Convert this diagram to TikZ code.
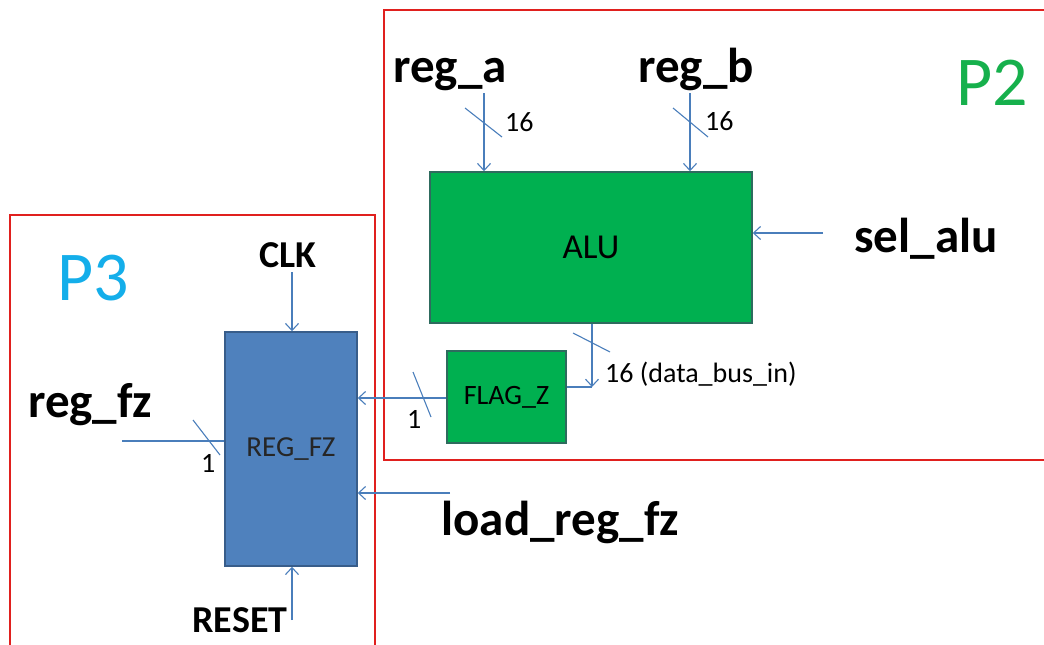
\documentclass[tikz,border=0pt]{standalone}
\usepackage{fontspec}
\setmainfont{Carlito}
\usetikzlibrary{positioning, arrows.meta, calc}
\definecolor{wireblue}{HTML}{4A7EBB}
\definecolor{framered}{HTML}{E0201E}
\definecolor{alugreen}{HTML}{00B050}
\definecolor{aluedge}{HTML}{2E6B5E}
\definecolor{regblue}{HTML}{4F81BD}
\definecolor{regedge}{HTML}{385D8A}
\definecolor{ptwo}{HTML}{16B04C}
\definecolor{pthree}{HTML}{14AEEA}

\begin{document}
\begin{tikzpicture}[
    x=1pt, y=-1pt,
    wire/.style={draw=wireblue, line width=1.1pt},
    arr/.style={wire, -{Straight Barb[length=7pt, width=13pt]}},
    frame/.style={draw=framered, line width=2.4pt},
    sig/.style={anchor=base, inner sep=0pt, font=\fontsize{49}{49}\selectfont\bfseries},
    ctl/.style={anchor=base, inner sep=0pt, font=\fontsize{38}{38}\selectfont\bfseries},
    num/.style={anchor=base west, inner sep=0pt, font=\fontsize{28}{28}\selectfont},
    part/.style={anchor=base, inner sep=0pt, font=\fontsize{70}{70}\selectfont},
    alublk/.style={draw=aluedge, line width=1.5pt, fill=alugreen, font=\fontsize{35}{35}\selectfont},
    regblk/.style={draw=regedge, line width=1.5pt, fill=regblue, text=black!85, font=\fontsize{29}{29}\selectfont},
]
\useasboundingbox (0,0) rectangle (1044,645);

% P2 and P3 frames
\draw[frame] (1060,10) -- (384,10) -- (384,460) -- (1060,460);
\draw[frame] (10,660) -- (10,215) -- (375,215) -- (375,660);
\node[part, text=ptwo] (p2) at (992,105) {P2};
\node[part, text=pthree] (p3) at (93,300) {P3};

% blocks
\node[alublk, minimum width=322, minimum height=151] (alu) at (591,247.5) {ALU};
\node[alublk, minimum width=119, minimum height=92, font=\fontsize{28}{28}\selectfont] (flagz) at (506.5,397) {FLAG\_Z};
\node[regblk, minimum width=132, minimum height=234] (regfz) at (291,449) {REG\_FZ};

% signal names
\node[sig] (rega) at (450,82) {reg\_a};
\node[sig] (regb) at (696,82) {reg\_b};
\node[sig] (selalu) at (926,252) {sel\_alu};
\node[sig] (regfzin) at (90,417) {reg\_fz};
\node[sig] (loadfz) at (560,535) {load\_reg\_fz};
\node[ctl] (clk) at (288,267) {CLK};
\node[ctl] (reset) at (240,632) {RESET};

% free ends
\coordinate (a-in) at (484,93);
\coordinate (b-in) at (690,93);
\coordinate (sel-in) at (823,233);
\coordinate (clk-in) at (292,272);
\coordinate (rst-in) at (292,620);
\coordinate (load-in) at (450,493);
\coordinate (fz-in) at (122,441);
\coordinate (dbus) at (592,387);

% connectors
\draw[arr] (a-in) -- (a-in |- alu.north);
\draw[arr] (b-in) -- (b-in |- alu.north);
\draw[arr] (sel-in) -- (sel-in -| alu.east);
\draw[arr] (dbus |- alu.south) -- (dbus);
\draw[wire] (dbus) -- (dbus -| flagz.east);
\draw[arr] (flagz.west |- 0,398) -- (regfz.east |- 0,398);
\draw[arr] (clk-in) -- (clk-in |- regfz.north);
\draw[arr] (rst-in) -- (rst-in |- regfz.south);
\draw[arr] (load-in) -- (load-in -| regfz.east);
\draw[wire] (fz-in) -- (fz-in -| regfz.west);

% bus width marks
\draw[wire] (465,108) -- (502,137);
\draw[wire] (673,108) -- (708,137);
\draw[wire] (573,333) -- (610,352);
\draw[wire] (413,372) -- (431,417);
\draw[wire] (193,420) -- (220,455);
\node[num] (wa) at (505,131) {16};
\node[num] (wb) at (705,130) {16};
\node[num] (wd) at (605,382) {16 (data\_bus\_in)};
\node[num] (wf) at (407,428) {1};
\node[num] (wr) at (201,472) {1};

\end{tikzpicture}
\end{document}
